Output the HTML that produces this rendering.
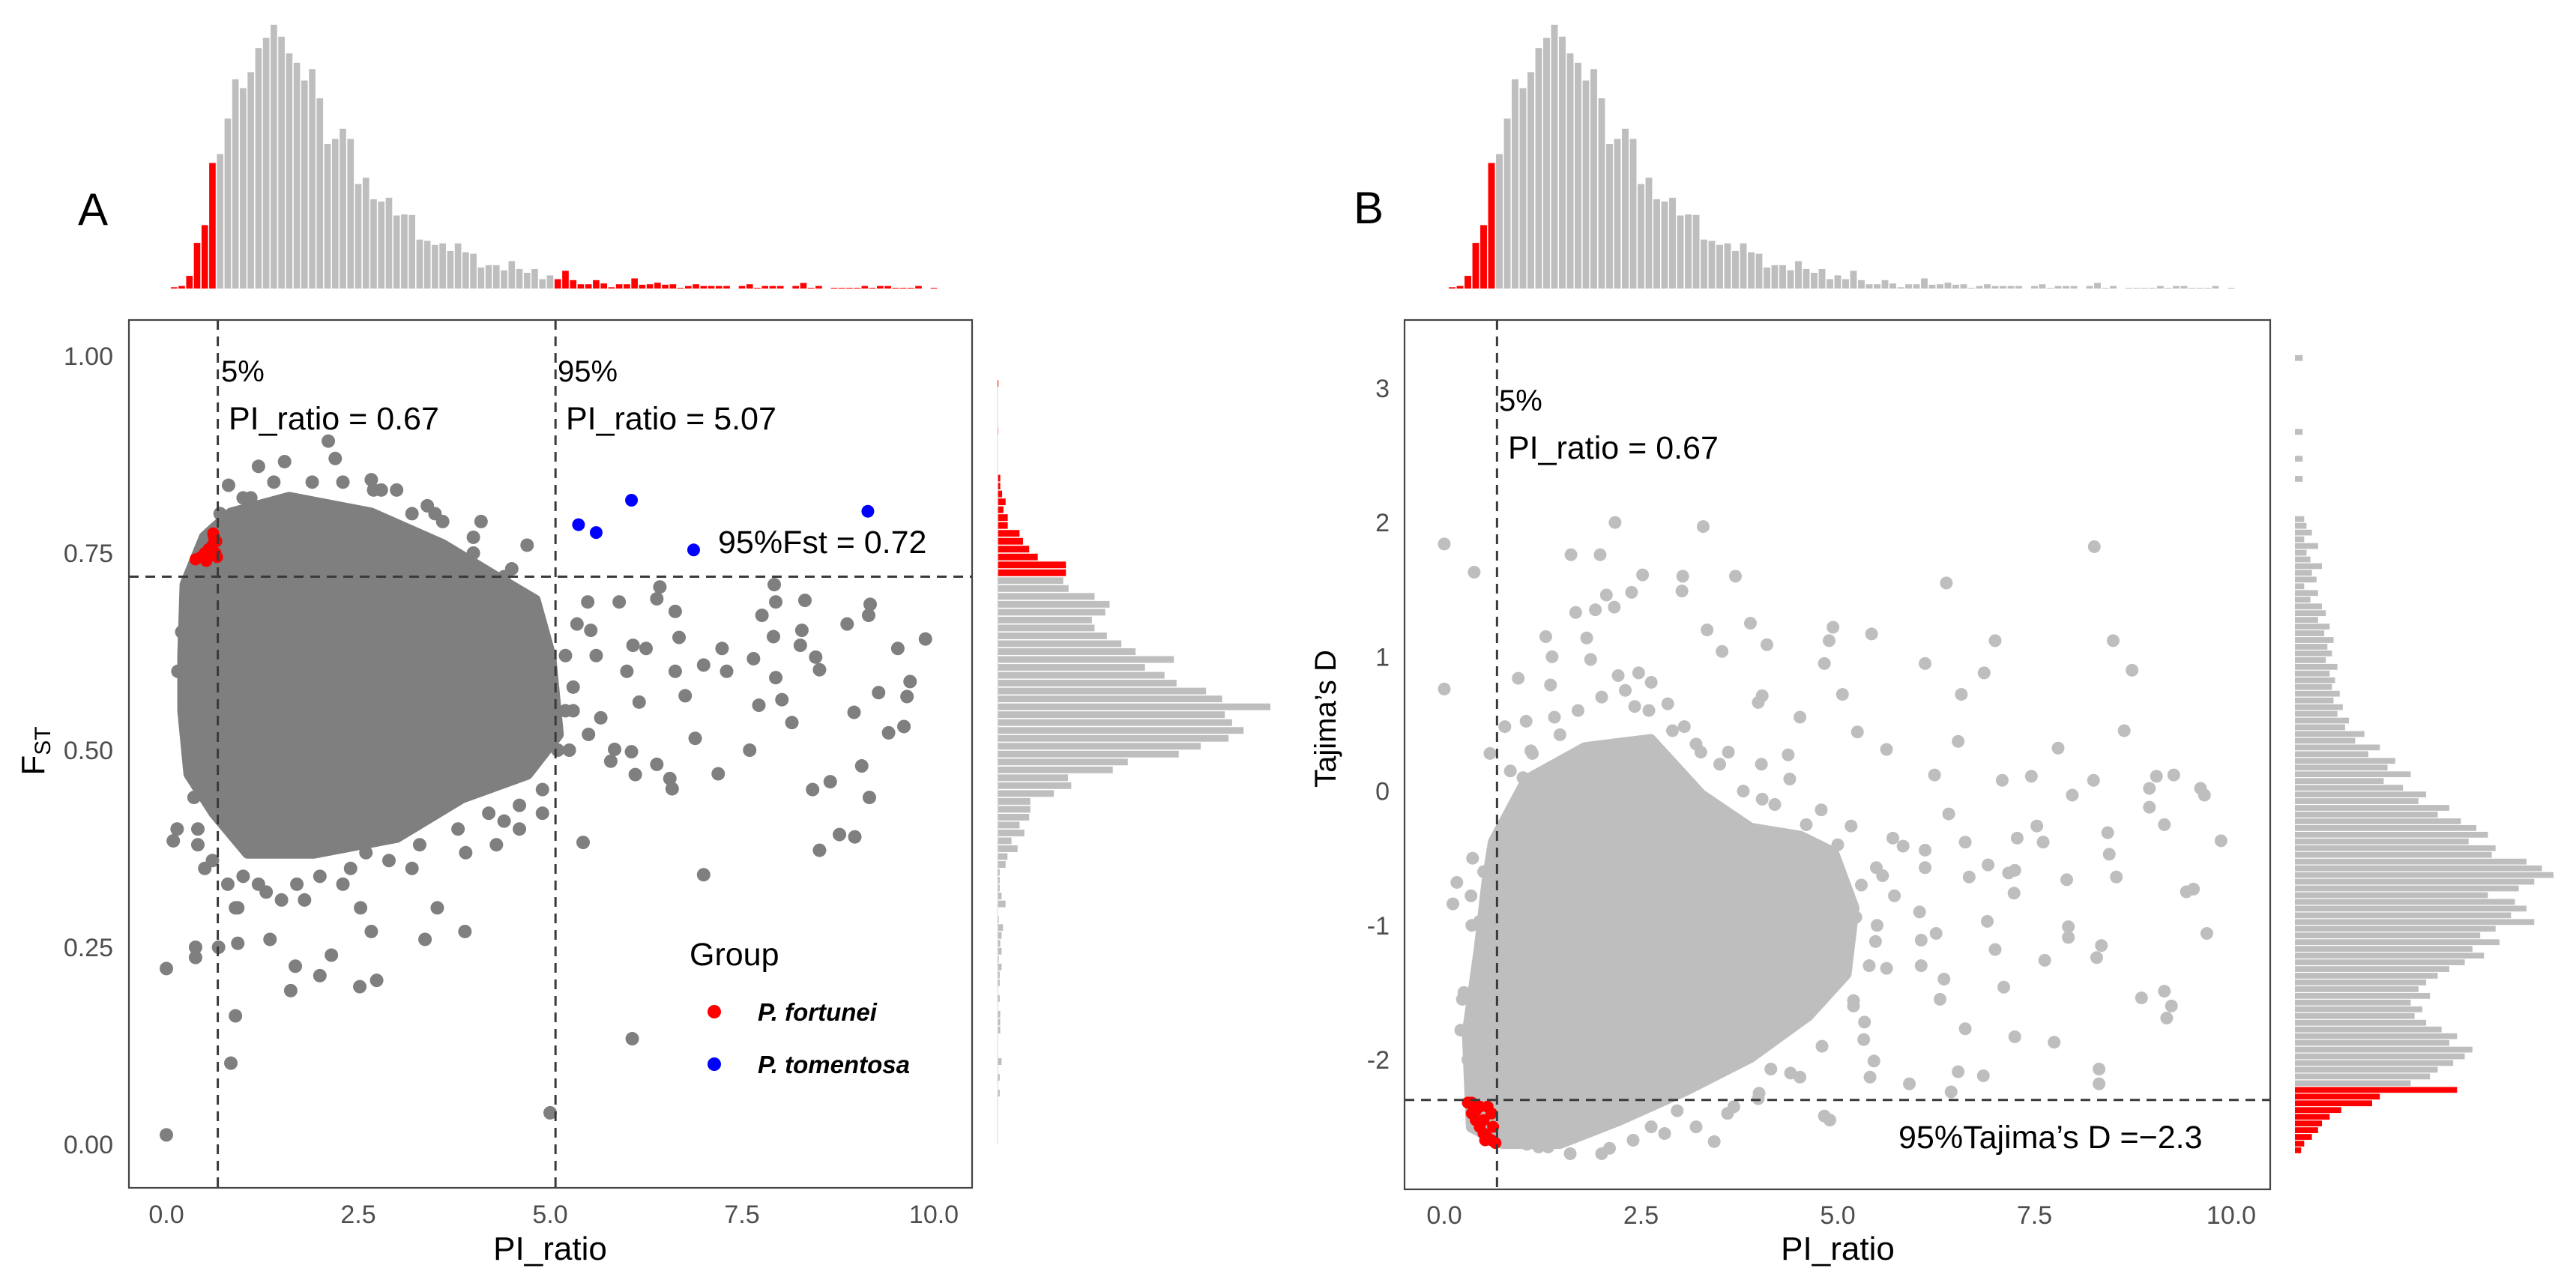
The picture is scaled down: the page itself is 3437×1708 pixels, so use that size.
<!DOCTYPE html>
<html><head><meta charset="utf-8"><title>PI_ratio vs FST and Tajima's D</title>
<style>
html,body{margin:0;padding:0;background:#fff;}
svg{display:block;font-family:"Liberation Sans",sans-serif;}
</style></head>
<body>
<svg id="fig" xmlns="http://www.w3.org/2000/svg" width="3437" height="1708" viewBox="0 0 3437 1708">
<rect x="0" y="0" width="3437" height="1708" fill="#fff"/>
<g id="gA"></g>
<g id="gB"></g>
<text x="124" y="300" font-size="60" fill="#000" text-anchor="middle">A</text>
<text x="1826" y="298" font-size="60" fill="#000" text-anchor="middle">B</text>
</svg>
<script>
// ---------- DATA ----------
const piBinWidth = 0.1;
const piCounts = [5,10,50,180,250,495,530,670,825,790,853,948,988,1040,993,927,890,820,865,750,
570,590,630,590,412,437,352,343,358,288,292,290,193,188,172,178,148,178,143,137,
83,92,92,72,108,77,62,77,37,52,37,70,33,17,17,33,20,5,17,17,
40,15,17,23,15,17,3,10,17,10,10,10,10,0,10,17,3,10,10,10,
0,10,22,3,10,0,3,3,3,3,10,3,10,10,3,3,3,10,0,3];
const piLow = 0.67, piHigh = 5.07;

const fstTopLo = 0.96, fstBinWidth = 0.01, fstThresh = 0.72;
const fstCounts = [3,0,0,0,0,0,3,0,0,0,0,0,
10,10,17,30,22,38,38,82,95,118,150,255,
255,245,265,362,418,402,352,362,408,462,515,658,550,623,668,778,838,1018,848,875,918,862,758,676,486,430,263,275,210,122,122,118,82,100,52,75,37,30,
8,8,8,15,30,0,5,20,15,10,15,5,15,8,8,0,8,0,10,10,10,0,0,0,15,0,8,0,8,0,0,0,0,0,0];

const tdTopLo = 3.20, tdBinWidth = 0.05, tdThresh = -2.2;
const tdCounts = [10,0,0,0,0,0,0,0,0,0,0,
10,0,0,0,10,0,0,10,0,0,0,0,0,
12,15,22,12,30,15,20,35,22,28,12,30,20,35,40,30,45,38,50,42,48,40,55,45,52,48,58,50,62,55,70,65,90,78,110,95,130,120,150,115,140,
170,160,200,185,215,235,250,225,260,255,300,320,335,310,290,250,285,300,280,310,260,240,265,230,245,220,200,185,170,160,175,150,165,155,170,190,210,200,230,220,205,185,175,150,
210,110,100,60,45,35,30,22,12,8];

const coreA_x = [0.22,0.25,0.5,0.84,1.6,2.67,3.6,4.28,4.8,5.0,5.1,4.7,3.85,3.0,1.92,1.06,0.63,0.3,0.22];
const coreA_y = [0.62,0.71,0.77,0.80,0.82,0.80,0.76,0.72,0.69,0.62,0.52,0.47,0.44,0.39,0.37,0.37,0.42,0.47,0.55];
const ptsA_x = [0.0,5.0,6.07,0.84,0.9,0.0,0.38,0.38,0.68,1.62,2.52,2.74,2.0,1.68,2.15,1.35,0.93,2.67,3.37,3.89,3.53,2.53,0.93,7.0,5.43,8.51,8.77,8.97,8.42,8.65,9.16,9.06,7.19,7.6,6.89,8.15,8.96,9.41,9.61,9.28,9.65,9.69,9.89,9.53,9.15,9.17,8.87,8.51,8.46,8.26,8.28,8.32,7.92,7.94,7.91,7.76,7.65,7.94,8.02,7.72,7.24,7.3,7.0,6.76,6.63,6.68,6.63,6.43,6.25,6.39,5.9,5.49,5.53,6.08,6.16,6.06,6.11,5.84,5.79,6.39,6.56,6.59,5.66,6.0,1.54,2.11,2.67,0.81,0.41,0.09,0.14,0.36,0.41,5.2,5.3,5.35,4.9,4.6,4.3,1.2,1.5,2.3,3.2,3.9,4.4,0.6,0.15,1.1,2.8,3.4,4.1,4.7,5.25,
0.5,0.8,1.0,1.3,1.7,2.0,2.4,2.9,3.3,3.8,4.2,4.6,4.9,5.1,5.2,4.8,4.4,4.0,3.6,3.2,2.7,2.3,1.9,1.4,1.0,0.7,0.3,0.25,0.2,0.35,1.2,2.2,3.0,3.5,4.0,4.5,5.3,5.5,5.6,0.9,1.8,2.6];
const ptsA_y = [0.012,0.04,0.134,0.103,0.163,0.223,0.237,0.25,0.25,0.195,0.2,0.208,0.214,0.226,0.24,0.26,0.255,0.27,0.26,0.27,0.3,0.3,0.3,0.342,0.383,0.373,0.393,0.39,0.45,0.46,0.44,0.48,0.47,0.5,0.515,0.535,0.548,0.522,0.53,0.573,0.568,0.587,0.641,0.629,0.671,0.685,0.66,0.602,0.618,0.633,0.652,0.69,0.71,0.688,0.644,0.671,0.616,0.592,0.564,0.557,0.629,0.6,0.608,0.569,0.6,0.643,0.676,0.707,0.629,0.692,0.688,0.688,0.652,0.633,0.561,0.498,0.469,0.501,0.486,0.482,0.464,0.451,0.541,0.6,0.866,0.892,0.843,0.836,0.40,0.385,0.40,0.44,0.38,0.62,0.55,0.66,0.42,0.40,0.38,0.33,0.31,0.33,0.35,0.37,0.41,0.36,0.60,0.82,0.83,0.81,0.79,0.76,0.5,
0.35,0.33,0.34,0.32,0.33,0.34,0.35,0.36,0.38,0.4,0.42,0.43,0.45,0.5,0.55,0.6,0.72,0.75,0.79,0.8,0.83,0.84,0.84,0.84,0.82,0.8,0.5,0.58,0.65,0.69,0.86,0.87,0.83,0.8,0.77,0.73,0.58,0.52,0.62,0.30,0.31,0.37];
const redA_x = [0.38,0.45,0.5,0.55,0.6,0.62,0.65,0.58,0.64,0.52,0.66,0.61];
const redA_y = [0.742,0.745,0.75,0.755,0.76,0.77,0.765,0.748,0.75,0.74,0.745,0.775];
const blueA_x = [5.37,5.6,6.06,6.87,9.14];
const blueA_y = [0.786,0.776,0.817,0.754,0.803];

const coreB_x = [0.63,1.05,1.79,2.62,3.26,3.89,4.52,4.94,5.2,5.1,4.62,3.89,3.05,2.21,1.47,0.74,0.35,0.3,0.45,0.55];
const coreB_y = [-0.38,0.08,0.32,0.38,-0.03,-0.28,-0.34,-0.46,-0.87,-1.36,-1.67,-1.98,-2.23,-2.45,-2.62,-2.62,-2.5,-1.8,-1.18,-0.67];
const ptsB_x = [0.0,0.38,0.0,1.61,1.98,2.17,3.29,2.52,3.03,3.7,3.02,2.38,2.06,1.67,1.92,2.16,3.89,3.34,4.1,3.53,1.29,1.81,1.37,1.86,0.94,1.35,2.21,4.94,4.89,5.43,4.83,5.06,4.52,5.25,5.62,4.37,6.38,6.11,7.0,6.86,6.57,6.53,7.8,7.46,7.09,8.26,8.5,8.74,8.64,8.25,9.05,9.27,8.96,9.61,9.66,9.87,9.43,9.52,9.69,9.15,8.96,8.43,8.45,8.54,7.91,7.61,7.53,7.98,7.28,7.17,6.91,6.67,6.62,6.23,6.41,5.83,6.11,6.11,5.57,5.72,6.04,6.25,6.9,7.0,7.11,7.25,7.24,7.93,7.93,7.63,8.35,8.29,8.86,9.15,9.24,9.18,8.32,8.32,7.75,7.25,6.85,6.53,6.44,5.91,5.46,5.41,4.83,4.9,4.52,4.15,3.43,6.35,6.3,6.62,5.62,6.06,6.06,5.34,5.33,5.2,5.48,5.23,5.7,5.49,0.11,0.16,0.36,0.23,0.21,0.45,0.34,0.58,0.84,0.77,1.04,1.12,1.47,2.42,2.47,2.63,2.84,3.05,3.26,4.04,3.99,3.61,4.03,4.39,4.04,4.79,5.17,2.1,1.32,1.05,0.79,2.63,3.68,3.99,2.96,
1.1,1.4,1.7,2.0,2.3,2.6,2.9,3.2,3.5,3.8,4.2,4.6,5.0,5.3,5.5,5.4,5.2,4.8,4.4,4.0,3.6,3.2,2.8,2.4,2.0,1.6,1.2,0.9,0.6,0.4,0.3,0.25,0.35,0.5,0.8,1.0];
const ptsB_y = [1.84,1.63,0.76,1.76,1.76,2.0,1.97,1.61,1.6,1.6,1.49,1.48,1.46,1.33,1.35,1.37,1.25,1.2,1.09,1.04,1.15,1.14,1.0,0.98,0.84,0.79,0.86,1.22,1.12,1.17,0.95,0.72,0.55,0.44,0.31,0.27,1.55,0.95,1.12,0.88,0.72,0.37,0.32,0.11,0.08,1.82,1.12,0.9,0.45,0.08,0.11,0.12,0.02,0.02,-0.03,-0.37,-0.75,-0.73,-1.06,-0.25,-0.12,-0.31,-0.47,-0.64,-0.66,-0.38,-0.26,-0.03,-0.35,-0.61,-0.55,-0.64,-0.38,0.12,-0.17,-0.41,-0.44,-0.57,-0.63,-0.78,-0.9,-1.06,-0.97,-1.18,-1.46,-0.59,-0.76,-1.09,-1.01,-1.26,-1.15,-1.24,-1.54,-1.49,-1.6,-1.69,-2.07,-2.18,-1.87,-1.83,-2.12,-2.09,-2.24,-2.18,-2.01,-2.13,-2.42,-2.45,-2.13,-2.07,-2.61,-1.4,-1.55,-1.77,-1.32,-1.11,-1.3,-1.72,-1.85,-1.56,-1.12,-0.94,-0.35,-0.57,-0.84,-0.68,-0.5,-1.55,-1.78,-0.97,-0.78,0.28,0.15,0.48,0.52,0.28,0.42,0.63,0.88,0.81,0.65,0.48,0.29,0.71,0.66,0.29,0.2,0.09,-0.06,-0.14,-0.26,-2.66,-2.65,-2.63,-2.53,-2.5,-2.35,-2.29,-2.38,
0.3,0.55,0.6,0.7,0.75,0.6,0.45,0.35,0.2,0.0,-0.1,-0.25,-0.4,-0.7,-1.0,-1.3,-1.6,-1.9,-2.1,-2.25,-2.4,-2.5,-2.55,-2.6,-2.7,-2.7,-2.65,-2.6,-2.55,-2.3,-2.0,-1.5,-1.0,-0.6,-0.2,0.1];
const redB_x = [0.3,0.35,0.4,0.45,0.5,0.55,0.6,0.65,0.35,0.45,0.55,0.6,0.4,0.5,0.62,0.52];
const redB_y = [-2.32,-2.4,-2.45,-2.5,-2.55,-2.58,-2.6,-2.62,-2.32,-2.35,-2.35,-2.4,-2.38,-2.45,-2.5,-2.6];

const xTicks = [0,2.5,5,7.5,10];
const xTickLabels = ["0.0","2.5","5.0","7.5","10.0"];
const yTicksA = [0,0.25,0.5,0.75,1.0];
const yTickLabelsA = ["0.00","0.25","0.50","0.75","1.00"];
const yTicksB = [-2,-1,0,1,2,3];
const yTickLabelsB = ["-2","-1","0","1","2","3"];
const fstLine = 0.72, tdLine = -2.3;

// ---------- DRAWING ----------
const NS = "http://www.w3.org/2000/svg";
function mk(tag, parent, attrs) {
  const e = document.createElementNS(NS, tag);
  for (const k in attrs) e.setAttribute(k, attrs[k]);
  parent.appendChild(e);
  return e;
}
const gA = document.getElementById('gA');
const gB = document.getElementById('gB');

const xA = v => 222 + v * 102.4;
const yA = v => 1527 - v * 1052;
const xB = v => 1927 + v * 105;
const yB = v => 518 + (3 - v) * 179.2;
const HIST_BASE = 385, HIST_MAX_PX = 352;
const maxPi = Math.max(...piCounts);

function topHist(g, xs, redRight, nameP) {
  piCounts.forEach((c, i) => {
    const center = (i + 1) * piBinWidth;
    const lo = center - piBinWidth / 2, hi = center + piBinWidth / 2;
    const h = c / maxPi * HIST_MAX_PX;
    if (h <= 0) return;
    const red = center < piLow || (redRight && center >= piHigh - 0.001);
    const r = mk('rect', g, {x: xs(lo) + 0.8, y: HIST_BASE - h, width: xs(hi) - xs(lo) - 1.6, height: h, fill: red ? '#ff0000' : '#bebebe'});
    
    
  });
}

function box(g, x0, y0, x1, y1, name) {
  const r = mk('rect', g, {x: x0, y: y0, width: x1 - x0, height: y1 - y0, fill: 'none', stroke: '#444', 'stroke-width': 2.2});
  
  
}

function core(g, xs, ys, cx, cy, color, name) {
  const pts = cx.map((v, i) => xs(v) + ',' + ys(cy[i])).join(' ');
  const p = mk('polygon', g, {points: pts, fill: color, stroke: color, 'stroke-width': 16, 'stroke-linejoin': 'round'});
  
  
}

function dots(g, xs, ys, px, py, color, r, name) {
  px.forEach((v, i) => {
    const c = mk('circle', g, {cx: xs(v), cy: ys(py[i]), r: r, fill: color});
    
    
  });
}

function txt(g, x, y, s, attrs, name) {
  const t = mk('text', g, Object.assign({x: x, y: y}, attrs));
  t.textContent = s;
  
  
  return t;
}

function dashed(g, x1, y1, x2, y2, name) {
  const l = mk('line', g, {x1: x1, y1: y1, x2: x2, y2: y2, stroke: '#3a3a3a', 'stroke-width': 3, 'stroke-dasharray': '13 9'});
  
  
}

// ===== Panel A =====
const A = {x0: 172, x1: 1297, y0: 427, y1: 1585};
topHist(gA, xA, true, 'a');
const fstMax = Math.max(...fstCounts);
fstCounts.forEach((c, i) => {
  const lo = fstTopLo - i * fstBinWidth;
  const len = c / fstMax * 364;
  if (len <= 0) return;
  const r = mk('rect', gA, {x: 1331, y: yA(lo + fstBinWidth) + 0.8, width: len, height: yA(lo) - yA(lo + fstBinWidth) - 1.6, fill: lo >= fstThresh ? '#ff0000' : '#bebebe'});
  
  
});
const thinA = mk('line', gA, {x1: 1331, y1: yA(0.96), x2: 1331, y2: yA(0.0), stroke: '#e6e6e6', 'stroke-width': 1.5});



core(gA, xA, yA, coreA_x, coreA_y, '#7f7f7f', 'fst-point-cloud');
dots(gA, xA, yA, ptsA_x, ptsA_y, '#7f7f7f', 9, 'fst-point');
dots(gA, xA, yA, redA_x, redA_y, '#ff0000', 8, 'fortunei-point');
dots(gA, xA, yA, blueA_x, blueA_y, '#0000ff', 8.5, 'tomentosa-point');
dashed(gA, xA(piLow), A.y0, xA(piLow), A.y1, 'pi-5pct-line');
dashed(gA, xA(piHigh), A.y0, xA(piHigh), A.y1, 'pi-95pct-line');
dashed(gA, A.x0, yA(fstLine), A.x1, yA(fstLine), 'fst-95pct-line');
box(gA, A.x0, A.y0, A.x1, A.y1, 'panel-a-border');

xTicks.forEach((v, i) => txt(gA, xA(v), 1632, xTickLabels[i], {'font-size': 34, fill: '#4d4d4d', 'text-anchor': 'middle'}, 'x-tick-label'));
yTicksA.forEach((v, i) => txt(gA, 151, yA(v) + 12, yTickLabelsA[i], {'font-size': 34, fill: '#4d4d4d', 'text-anchor': 'end'}, 'y-tick-label'));
txt(gA, 734, 1681, 'PI_ratio', {'font-size': 44, fill: '#000', 'text-anchor': 'middle'}, 'x-axis-title');
const fT = txt(gA, 0, 0, 'F', {'font-size': 44, fill: '#000', transform: 'translate(59,1002) rotate(-90)', 'text-anchor': 'middle'}, 'y-axis-title');
const sub = mk('tspan', fT, {'font-size': 30, dy: 8});
sub.textContent = 'ST';



txt(gA, 295, 509, '5%', {'font-size': 40, fill: '#000'}, 'pi-5pct-label');
txt(gA, 305, 573, 'PI_ratio = 0.67', {'font-size': 43, fill: '#000'}, 'pi-5pct-value');
txt(gA, 744, 509, '95%', {'font-size': 40, fill: '#000'}, 'pi-95pct-label');
txt(gA, 755, 573, 'PI_ratio = 5.07', {'font-size': 43, fill: '#000'}, 'pi-95pct-value');
txt(gA, 958, 738, '95%Fst = 0.72', {'font-size': 43, fill: '#000'}, 'fst-95pct-label');

txt(gA, 920, 1288, 'Group', {'font-size': 43, fill: '#000'}, 'legend-title');
const lr = mk('circle', gA, {cx: 953, cy: 1350, r: 9, fill: '#ff0000'});


txt(gA, 1011, 1362, 'P. fortunei', {'font-size': 33, 'font-weight': 'bold', 'font-style': 'italic', fill: '#000'}, 'legend-fortunei-label');
const lb = mk('circle', gA, {cx: 953, cy: 1420, r: 9, fill: '#0000ff'});


txt(gA, 1011, 1432, 'P. tomentosa', {'font-size': 33, 'font-weight': 'bold', 'font-style': 'italic', fill: '#000'}, 'legend-tomentosa-label');

// ===== Panel B =====
const B = {x0: 1874, x1: 3029, y0: 427, y1: 1587};
topHist(gB, xB, false, 'b');
const tdMax = Math.max(...tdCounts);
tdCounts.forEach((c, i) => {
  const lo = tdTopLo - i * tdBinWidth;
  const len = c / tdMax * 345;
  if (len <= 0) return;
  const r = mk('rect', gB, {x: 3062, y: yB(lo + tdBinWidth) + 0.6, width: len, height: yB(lo) - yB(lo + tdBinWidth) - 1.2, fill: (lo + tdBinWidth) <= tdThresh + 0.001 ? '#ff0000' : '#bebebe'});
  
  
});

core(gB, xB, yB, coreB_x, coreB_y, '#bebebe', 'tajima-point-cloud');
dots(gB, xB, yB, ptsB_x, ptsB_y, '#bebebe', 8.5, 'tajima-point');
dots(gB, xB, yB, redB_x, redB_y, '#ff0000', 8, 'tajima-low-point');
dashed(gB, xB(piLow), B.y0, xB(piLow), B.y1, 'pi-5pct-line-b');
dashed(gB, B.x0, yB(tdLine), B.x1, yB(tdLine), 'tajima-95pct-line');
box(gB, B.x0, B.y0, B.x1, B.y1, 'panel-b-border');

xTicks.forEach((v, i) => txt(gB, xB(v), 1633, xTickLabels[i], {'font-size': 34, fill: '#4d4d4d', 'text-anchor': 'middle'}, 'x-tick-label-b'));
yTicksB.forEach((v, i) => txt(gB, 1854, yB(v) + 12, yTickLabelsB[i], {'font-size': 34, fill: '#4d4d4d', 'text-anchor': 'end'}, 'y-tick-label-b'));
txt(gB, 2452, 1681, 'PI_ratio', {'font-size': 44, fill: '#000', 'text-anchor': 'middle'}, 'x-axis-title-b');
txt(gB, 0, 0, 'Tajima\u2019s D', {'font-size': 40, fill: '#000', 'text-anchor': 'middle', transform: 'translate(1782,959) rotate(-90)'}, 'y-axis-title-b');
txt(gB, 2000, 548, '5%', {'font-size': 40, fill: '#000'}, 'pi-5pct-label-b');
txt(gB, 2012, 612, 'PI_ratio = 0.67', {'font-size': 43, fill: '#000'}, 'pi-5pct-value-b');
txt(gB, 2533, 1532, '95%Tajima\u2019s D =\u22122.3', {'font-size': 43, fill: '#000'}, 'tajima-95pct-label');
</script>
</body></html>
